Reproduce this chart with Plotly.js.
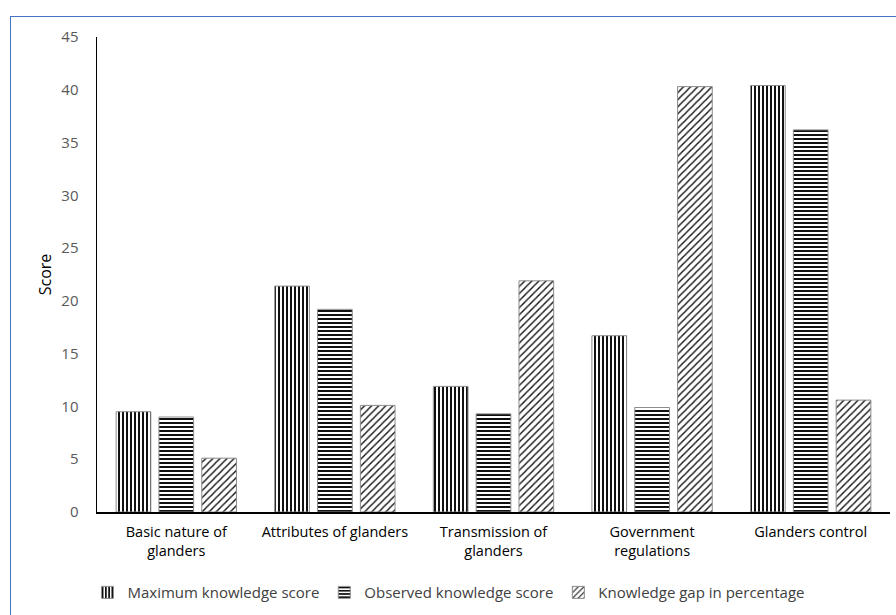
<!DOCTYPE html>
<html><head><meta charset="utf-8">
<script src="https://cdn.plot.ly/plotly-3.0.1.min.js"></script>
<style>
html,body{margin:0;padding:0;background:#fff;}
#frame{position:absolute;left:10px;top:16px;width:900px;height:620px;border:1px solid #4472C4;box-sizing:border-box;pointer-events:none;z-index:5;}
#chart{position:absolute;left:0;top:0;width:896px;height:615px;}
</style></head>
<body>
<div id="chart"></div>
<div id="frame"></div>
<script>
const categories = ["Basic nature of<br>glanders", "Attributes of glanders", "Transmission of<br>glanders", "Government<br>regulations", "Glanders control"];
const maxScore = [9.5, 21.4, 11.9, 16.7, 40.4];
const observedScore = [9.0, 19.2, 9.3, 9.9, 36.2];
const gapPercent = [5.1, 10.1, 21.9, 40.3, 10.6];
const seriesNames = ["Maximum knowledge score", "Observed knowledge score", "Knowledge gap in percentage"];

function mk(name, y, shape, size, sol){
  return {type:'bar', name:name, x:categories, y:y,
    marker:{color:'white', line:{color:'#8c8c8c', width:1},
      pattern:{shape:shape, fgcolor:'#111', bgcolor:'#fff', size:size, solidity:sol, fillmode:'replace'}}};
}
const data = [
  mk(seriesNames[0], maxScore, '|', 4, 0.5),
  mk(seriesNames[1], observedScore, '-', 4, 0.5),
  mk(seriesNames[2], gapPercent, '/', 5, 0.28)
];
const layout = {
  width:896, height:615,
  margin:{l:97, r:6, t:37, b:103},
  paper_bgcolor:'#fff', plot_bgcolor:'#fff',
  font:{family:'"Open Sans", "Noto Sans", sans-serif', size:14, color:'#000'},
  barmode:'group', bargap:0.19, bargroupgap:0.19,
  showlegend:true,
  legend:{orientation:'h', x:-0.012, xanchor:'left', y:-0.135, yanchor:'top',
    font:{size:15, color:'#404040'}, itemwidth:30, traceorder:'normal'},
  xaxis:{showline:true, linecolor:'#000', linewidth:1.5, showgrid:false, ticks:'',
    ticklabelstandoff:6, tickfont:{size:14.5, color:'#000'}, zeroline:false},
  yaxis:{range:[0,45], dtick:5, showline:true, linecolor:'#000', linewidth:1.5, showgrid:false,
    zeroline:false, ticks:'', ticklabelstandoff:14, tickfont:{size:15, color:'#595959'},
    title:{text:'Score', font:{size:16, color:'#000'}, standoff:5}}
};
Plotly.newPlot('chart', data, layout, {displayModeBar:false, staticPlot:true});
</script>
</body></html>
